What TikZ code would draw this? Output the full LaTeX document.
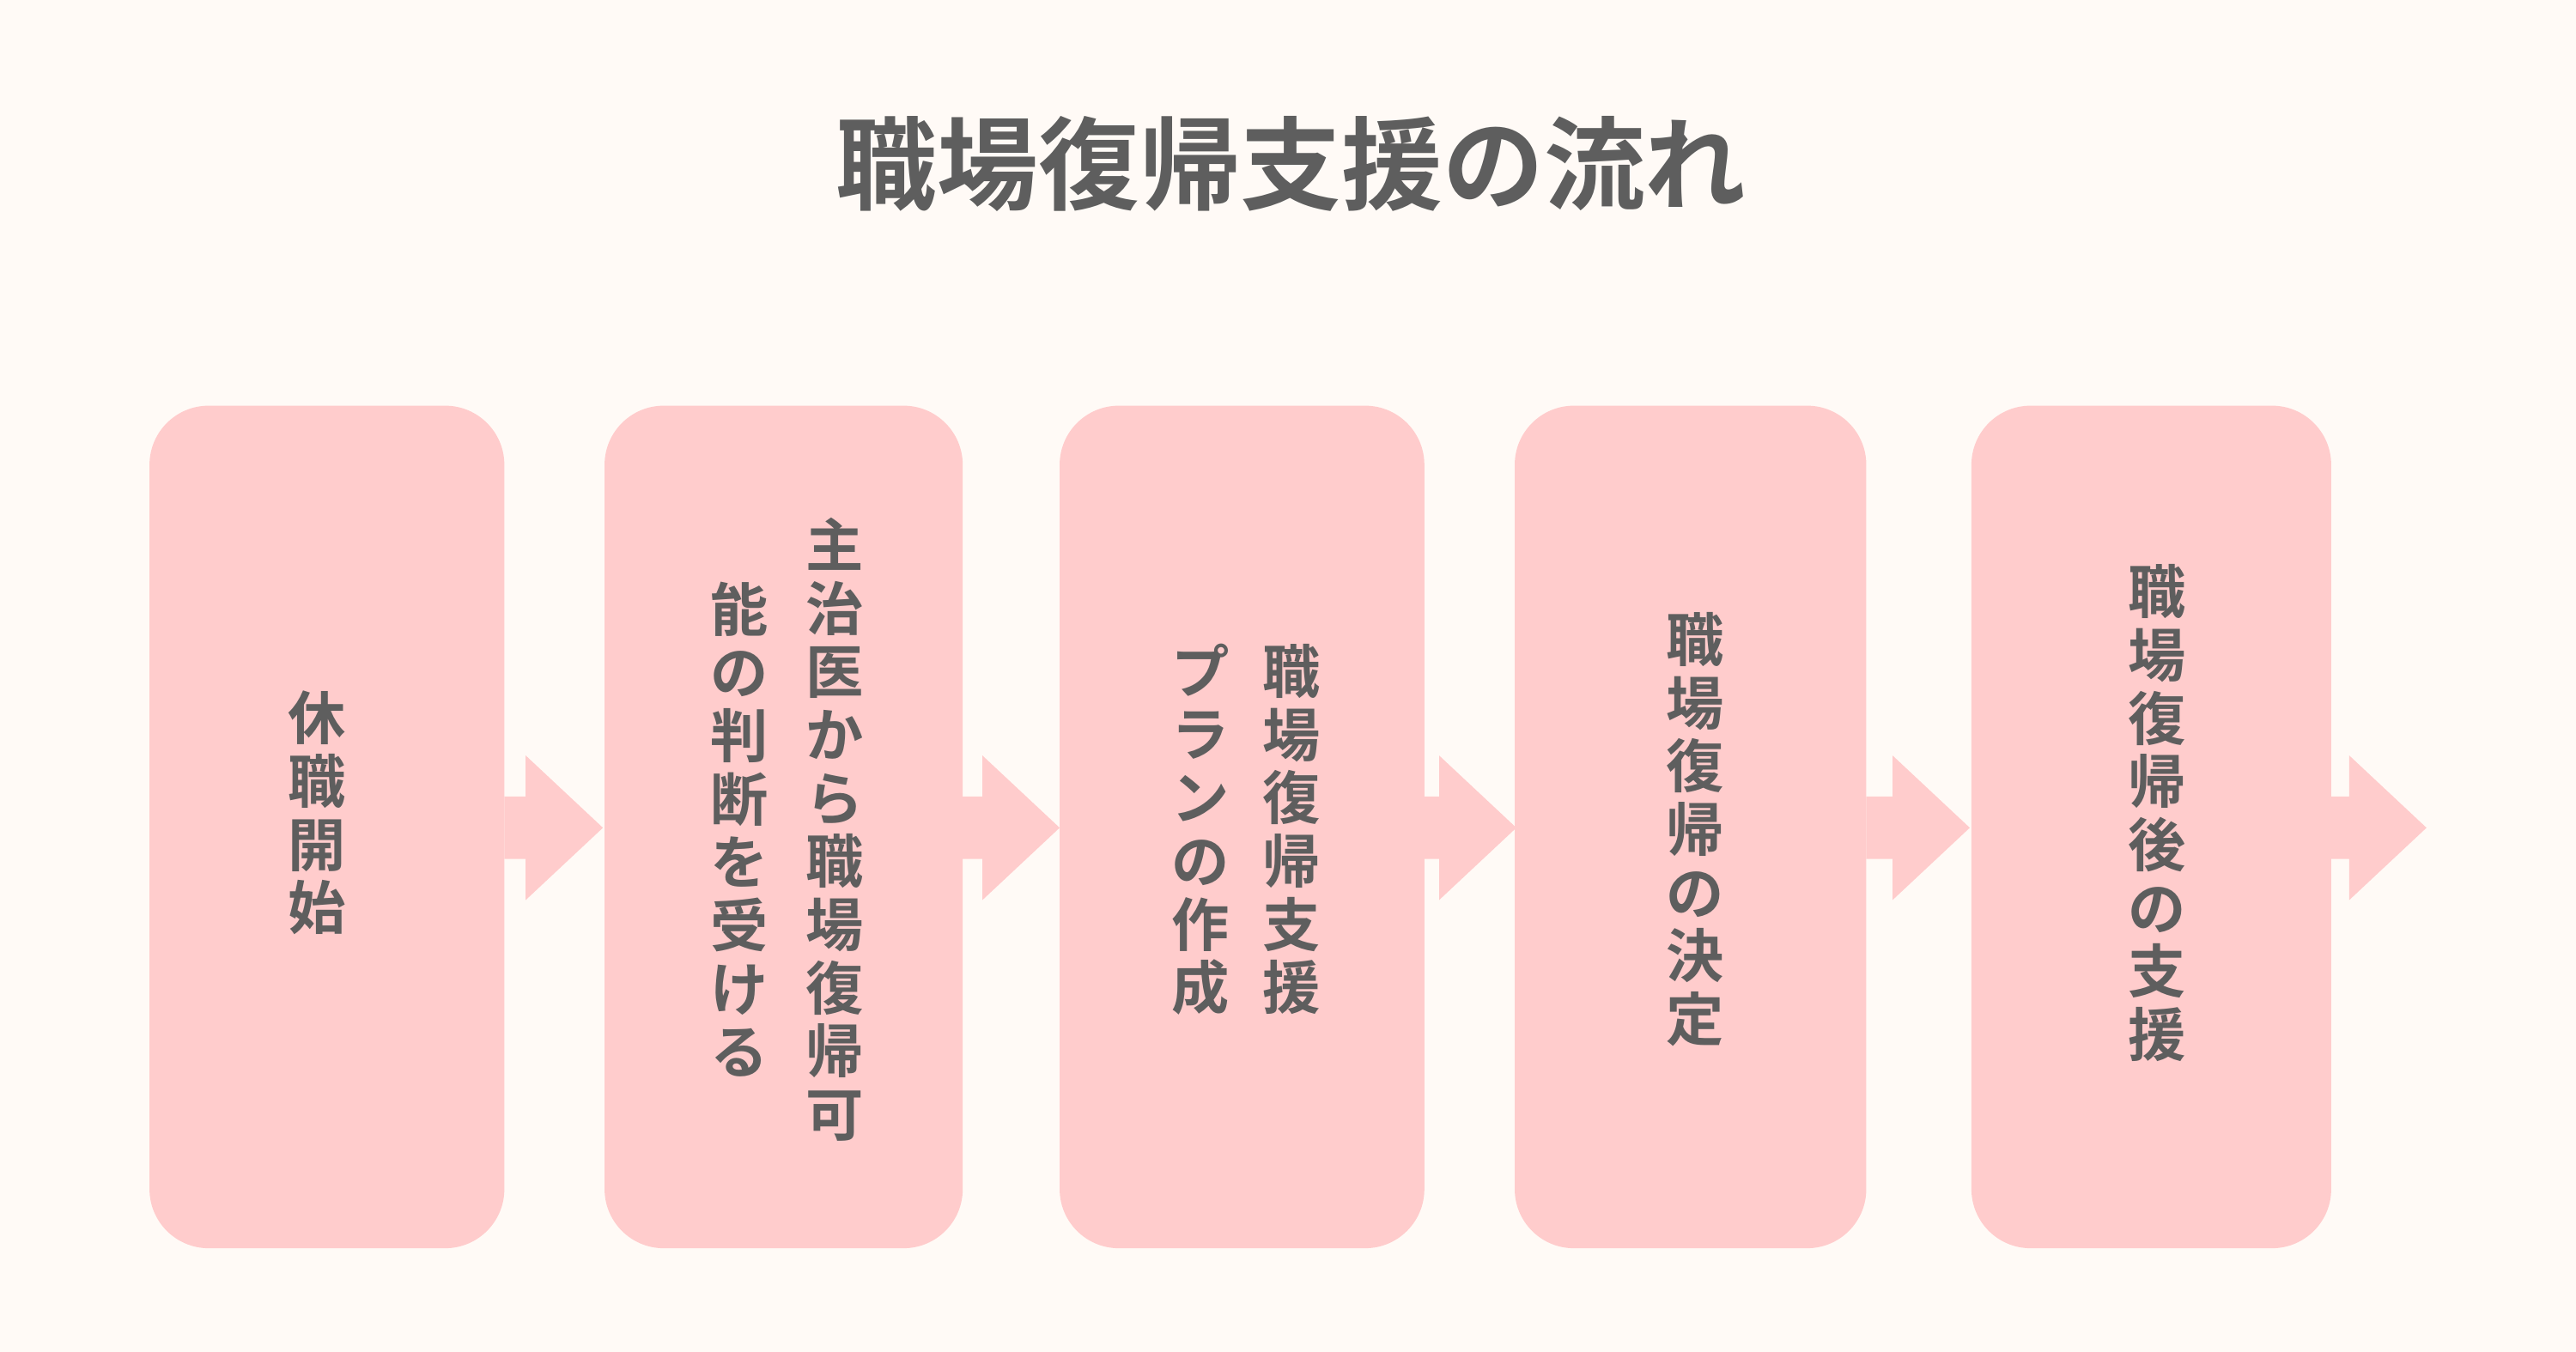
\documentclass[tikz,border=0pt]{standalone}
\usepackage{fontspec}
\newfontfamily\cjk{Noto Sans CJK JP Bold}
\definecolor{bg}{HTML}{FFFAF6}
\definecolor{pinkbox}{HTML}{FFCCCC}
\definecolor{txt}{HTML}{5E5E5E}
\begin{document}
\begin{tikzpicture}[x=0.01cm,y=-0.01cm,
  stepbox/.style={fill=pinkbox,rounded corners=0.36cm},
  col/.style={text=txt,align=center,inner sep=0pt,font=\cjk\fontsize{10}{10.95}\selectfont},
  flow/.style={fill=pinkbox}]
\fill[bg] (0,0) rectangle (1568,823);
\useasboundingbox (0,0) rectangle (1568,823);
\node[text=txt,font=\cjk\fontsize{17.5}{20}\selectfont] (title) at (786,100) {職場復帰支援の流れ};
\fill[stepbox] (91,247) rectangle (307,760);
\fill[stepbox] (368,247) rectangle (586,760);
\fill[stepbox] (645,247) rectangle (867,760);
\fill[stepbox] (922,247) rectangle (1136,760);
\fill[stepbox] (1200,247) rectangle (1419,760);
\foreach \a/\b in {307/320,586/598,867/876,1136/1152,1419/1430}{
  \fill[flow] (\a,485) -- (\b,485) -- (\b,460) -- (\b+47,504) -- (\b,548) -- (\b,523) -- (\a,523) -- cycle;
}
\node[col] (c1) at (193,495) {休\\職\\開\\始};
\node[col] (c2a) at (508,505) {主\\治\\医\\か\\ら\\職\\場\\復\\帰\\可};
\node[col] (c2b) at (450,505) {能\\の\\判\\断\\を\\受\\け\\る};
\node[col] (c3a) at (786,505) {職\\場\\復\\帰\\支\\援};
\node[col] (c3b) at (731,505) {プ\\ラ\\ン\\の\\作\\成};
\node[col] (c4) at (1032,505) {職\\場\\復\\帰\\の\\決\\定};
\node[col] (c5) at (1313,495) {職\\場\\復\\帰\\後\\の\\支\\援};
\end{tikzpicture}
\end{document}
